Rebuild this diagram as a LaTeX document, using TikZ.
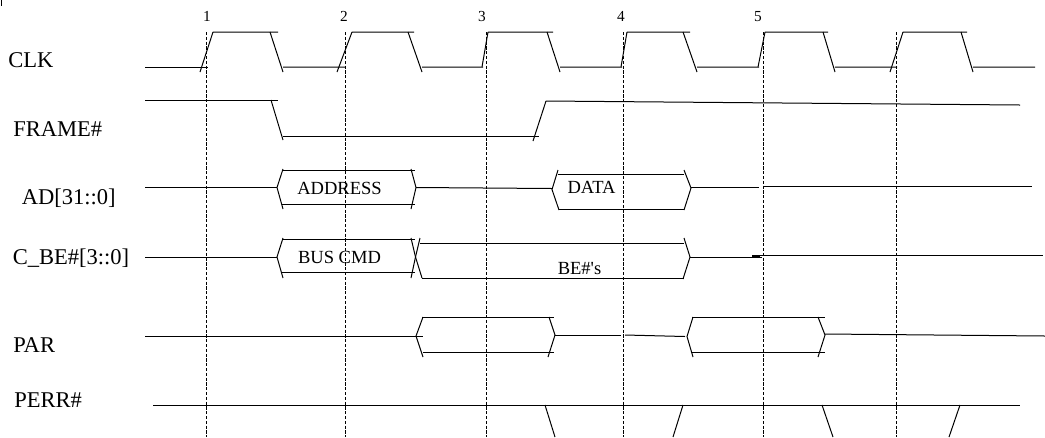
\documentclass[tikz,border=0pt]{standalone}
\usepackage{fontspec}
\setmainfont{Liberation Serif}
\begin{document}
\begin{tikzpicture}[x=0.75pt,y=-0.75pt,
  sig/.style={line width=0.75pt, black},
  grid/.style={line width=0.5pt, black, dash pattern=on 2.4pt off 1.2pt},
  lab/.style={anchor=base west, inner sep=0pt, font=\fontsize{16.9}{18}\selectfont},
  boxtxt/.style={anchor=base, inner sep=0pt, font=\fontsize{13.9}{16}\selectfont},
  num/.style={anchor=base, inner sep=0pt, font=\fontsize{11.5}{13}\selectfont}]
\useasboundingbox (0,0) rectangle (1045,437);

% small mark at top-left corner
\draw[sig] (1.5,0) -- (1.5,6);

% clock edge lines
\foreach \x [count=\i] in {206,345,486,623,763,896}
  \draw[grid] (\x,32) -- (\x,437);

% cycle numbers
\node[num] (n1) at (207,21.7) {1};
\node[num] (n2) at (344,21.7) {2};
\node[num] (n3) at (482,21.7) {3};
\node[num] (n4) at (621,21.7) {4};
\node[num] (n5) at (758,21.7) {5};

% signal names
\node[lab] (lclk) at (8,67.5) {CLK};
\node[lab] (lframe) at (13,136.7) {FRAME\#};
\node[lab] (lad) at (21.5,204) {AD[31::0]};
\node[lab] (lcbe) at (12.5,264) {C\_BE\#[3::0]};
\node[lab] (lpar) at (13,352.7) {PAR};
\node[lab] (lperr) at (14,407.3) {PERR\#};

% CLK
\draw[sig] (145,67) -- (208,67);
\draw[sig] (200,72) -- (213,32) (213,32) -- (278,32);
\draw[sig] (270,32) -- (283,72) (283,67) -- (345,67);
\draw[sig] (337,72) -- (352,32) (352,32) -- (414,32);
\draw[sig] (408,32) -- (422,72) (422,67) -- (483,67);
\draw[sig] (482,67) -- (488,32) (488,32) -- (553,32);
\draw[sig] (547,32) -- (560,72) (560,67) -- (622,67);
\draw[sig] (621,67) -- (627,32) (627,32) -- (690,32);
\draw[sig] (683,32) -- (697,72) (697,67) -- (759,67);
\draw[sig] (758,67) -- (765,32) (765,32) -- (828,32);
\draw[sig] (823,32) -- (835,72) (835,67) -- (897,67);
\draw[sig] (890,72) -- (903,32) (903,32) -- (967,32);
\draw[sig] (961,32) -- (973,72) (973,67) -- (1035,67);

% FRAME#
\draw[sig] (145,100) -- (278,100);
\draw[sig] (271,100) -- (283,140);
\draw[sig] (283,136) -- (539,136);
\draw[sig] (533,141) -- (546,101);
\draw[sig] (546,101) -- (1020,105);

% AD[31::0]
\draw[sig] (145,187.5) -- (277,187.5);
\draw[sig] (283,169) -- (277,187.5) -- (283,209);
\draw[sig] (282,170) -- (415,170) (282,204) -- (415,204);
\draw[sig] (411,169) -- (416,187.5) -- (411,209);
\draw[sig] (416,187.5) -- (552,188.5);
\node[boxtxt] (taddr) at (339.5,194.3) {ADDRESS};
\draw[sig] (558,170) -- (552,189.5) -- (559,210);
\draw[sig] (558,174) -- (684,174) (559,209) -- (684,209);
\draw[sig] (684,170) -- (691,188) -- (684,210);
\draw[sig] (691,187.5) -- (759,187.5);
\draw[sig] (763,186) -- (1032,186);
\node[boxtxt] (tdata) at (591.5,193.8) {DATA};

% C_BE#[3::0]
\draw[sig] (145,257) -- (277,257);
\draw[sig] (283,238) -- (277,257) -- (283,278);
\draw[sig] (282,239) -- (415,239) (282,272.5) -- (415,272.5);
\draw[sig] (411,238) -- (415.5,257) -- (411,278);
\draw[sig] (420,238) -- (415.5,257) -- (422,278);
\draw[sig] (420,243) -- (684,243) (422,278) -- (684,278);
\draw[sig] (684,238) -- (690,257) -- (683,279);
\draw[sig] (690,257) -- (762,257);
\draw[line width=1.4pt] (752,256) -- (760,256);
\draw[sig] (760,255) -- (1043,255);
\node[boxtxt] (tcmd) at (339.5,263.3) {BUS CMD};
\node[boxtxt] (tbe) at (579.5,274.3) {\addfontfeatures{Ligatures=TeXOff}BE\#'s};

% PAR
\draw[sig] (145,336) -- (423,336);
\draw[sig] (423,317) -- (416,336) -- (423,357);
\draw[sig] (422,317) -- (554,317) (423,352) -- (554,352);
\draw[sig] (549,317) -- (555,335) -- (548,357);
\draw[sig] (555,335) -- (621,335);
\draw[sig] (625,335) -- (685,336.5);
\draw[sig] (693,317) -- (687,336.5) -- (693,357);
\draw[sig] (692,317) -- (825,317) (692,352) -- (825,352);
\draw[sig] (818,317) -- (825,335) -- (818,357);
\draw[sig] (825,334) -- (1045,336);

% PERR#
\draw[sig] (153,405) -- (1020,405);
\draw[sig] (545,405) -- (555,437);
\draw[sig] (683,405) -- (673,437);
\draw[sig] (822,405) -- (833,437);
\draw[sig] (960,405) -- (949,437);
\end{tikzpicture}
\end{document}
